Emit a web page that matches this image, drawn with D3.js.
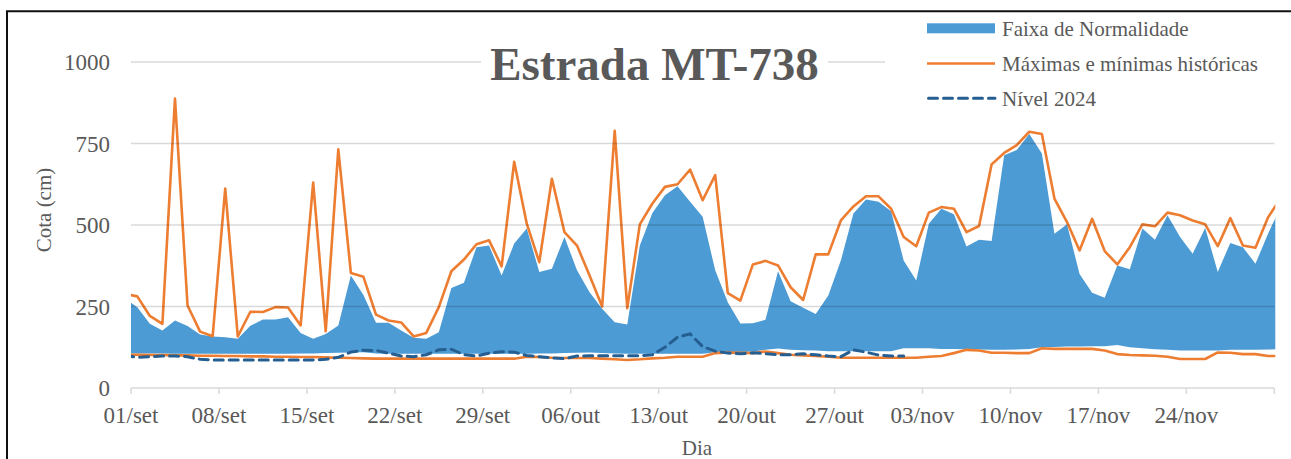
<!DOCTYPE html>
<html><head><meta charset="utf-8">
<script src="https://cdn.jsdelivr.net/npm/d3@7"></script>
<style>body{margin:0;background:#fff}svg{display:block}text{font-family:"Liberation Serif","Times New Roman",serif;fill:#595959}</style>
</head><body>
<svg id="c" width="1291" height="459"></svg>
<script>
// Days counted from 01/set; first value is 31/ago (day -1), last is 01/dez (day 91)
const firstDay = -1;
const maxima = [289,281,221,197,888,253,173,159,612,158,234,233,248,247,192,630,174,732,353,341,
  225,207,201,158,169,248,358,394,441,453,373,694,504,386,642,478,437,345,250,789,
  245,502,566,617,625,670,576,653,291,268,379,390,376,309,270,410,410,514,557,588,
  588,550,463,435,538,555,550,478,497,686,721,745,786,779,581,509,422,519,420,379,
  432,502,496,538,530,514,502,435,521,437,430,523,582];
const bandTop = [275,248,197,176,207,190,164,158,156,151,191,210,210,217,169,151,166,192,345,285,
  200,200,176,154,151,171,307,323,432,437,345,443,489,356,366,463,361,294,243,202,
  195,437,537,591,619,571,525,361,263,198,199,209,358,266,246,227,284,391,535,578,
  571,542,391,330,504,550,533,434,455,451,714,730,779,719,473,502,350,292,277,376,
  364,489,455,530,463,412,491,356,445,432,381,473,555];
const bandBottom = [106,106,106,106,105,105,105,105,105,105,105,105,105,105,106,106,107,108,109,110,
  106,105,105,105,105,105,105,105,105,105,105,105,105,106,106,107,108,109,107,106,
  105,105,105,105,105,105,105,110,110,110,112,117,121,117,116,115,113,113,113,113,
  113,113,122,122,122,120,120,119,118,117,117,118,120,125,126,127,127,128,128,132,
  125,122,119,117,115,115,115,115,117,117,117,118,119];
const minima = [102,102,101,101,100,100,99,99,98,98,97,97,96,96,95,95,94,93,92,91,
  90,90,90,90,90,90,90,90,90,90,90,90,96,95,93,92,92,92,90,88,
  86,88,91,93,96,96,96,107,109,108,107,112,107,102,100,98,96,93,93,93,
  93,93,93,93,96,98,107,117,115,108,108,107,107,122,120,120,120,120,115,104,
  101,100,99,96,89,89,89,109,108,104,104,98,98];
const level2024 = [100,94,96,98,98,96,88,86,86,86,86,86,86,86,86,86,88,94,110,116,
  115,107,98,96,102,117,119,102,98,107,111,110,100,96,92,90,98,99,99,99,
  99,99,102,125,156,166,127,113,107,105,108,105,102,102,105,102,98,96,117,110,
  101,98,98];
const xTickLabels = ["01/set","08/set","15/set","22/set","29/set","06/out","13/out","20/out","27/out","03/nov","10/nov","17/nov","24/nov"];
const yTicks = [0,250,500,750,1000];
const title = "Estrada MT-738";
const legendLabels = ["Faixa de Normalidade","Máximas e mínimas históricas","Nível 2024"];

const svg = d3.select("#c");
const L = 131, R = 1274.3, T = 62, B = 388;
const x = d3.scaleLinear().domain([0, 91]).range([L, R]);
const y = d3.scaleLinear().domain([0, 1000]).range([B, T]);
const px = i => x(firstDay + i + 0.5);

svg.append("rect").attr("width",1291).attr("height",459).attr("fill","#fff");
svg.append("defs").append("clipPath").attr("id","clip")
  .append("rect").attr("x",L).attr("y",0).attr("width",R-L+1).attr("height",B);

// axis baseline and ticks
svg.append("line").attr("x1",L).attr("x2",R).attr("y1",B).attr("y2",B).attr("stroke","#d9d9d9").attr("stroke-width",1.5);
const tickDays = d3.range(0, 92, 7);
svg.selectAll(".tk").data(tickDays).join("line")
  .attr("x1",d=>x(d)).attr("x2",d=>x(d)).attr("y1",B).attr("y2",B+6)
  .attr("stroke","#d9d9d9").attr("stroke-width",1.5);
svg.selectAll(".xl").data(xTickLabels).join("text")
  .attr("x",(d,i)=>x(i*7)).attr("y",423).attr("text-anchor","middle")
  .attr("font-size",23).text(d=>d);
svg.selectAll(".yl").data(yTicks).join("text")
  .attr("x",110).attr("y",d=>y(d)+8).attr("text-anchor","end")
  .attr("font-size",23).text(d=>d);

const g = svg.append("g").attr("clip-path","url(#clip)");
const idx = d3.range(maxima.length);
g.append("path").datum(idx)
  .attr("d", d3.area().x(i=>px(i)).y0(i=>y(bandBottom[i])).y1(i=>y(bandTop[i])))
  .attr("fill","#4c9bd4");
// gridlines
svg.selectAll(".gl").data(yTicks.slice(1)).join("line")
  .attr("x1",L).attr("x2",R).attr("y1",d=>y(d)).attr("y2",d=>y(d))
  .attr("stroke","rgba(0,0,0,0.15)").attr("stroke-width",1.5);

const line = arr => d3.line().x(i=>px(i)).y(i=>y(arr[i]));
g.append("path").datum(idx).attr("d", line(maxima)).attr("fill","none").attr("stroke","#ed7d31").attr("stroke-width",2.6).attr("stroke-linejoin","round");
g.append("path").datum(idx).attr("d", line(minima)).attr("fill","none").attr("stroke","#ed7d31").attr("stroke-width",2.6).attr("stroke-linejoin","round");
g.append("path").datum(d3.range(level2024.length)).attr("d", line(level2024)).attr("fill","none")
  .attr("stroke","#255e91").attr("stroke-width",3).attr("stroke-dasharray","9,6").attr("stroke-linecap","round");

// title with white box
const tt = svg.append("text").attr("x",654.5).attr("y",80).attr("text-anchor","middle")
  .attr("font-size",47).attr("font-weight","bold").text(title);
const bb = tt.node().getBBox();
svg.insert("rect","text:last-of-type").attr("x",bb.x-9).attr("y",bb.y).attr("width",bb.width+18).attr("height",bb.height).attr("fill","#fff");
tt.raise();

// legend
svg.append("rect").attr("x",885).attr("y",13).attr("width",406).attr("height",112).attr("fill","#fff");
svg.append("rect").attr("x",927).attr("y",23.3).attr("width",68).attr("height",10).attr("fill","#4c9bd4");
svg.append("line").attr("x1",927).attr("x2",995).attr("y1",63.5).attr("y2",63.5).attr("stroke","#ed7d31").attr("stroke-width",2.6);
svg.append("line").attr("x1",928.5).attr("x2",995).attr("y1",98.3).attr("y2",98.3).attr("stroke","#255e91").attr("stroke-width",3).attr("stroke-dasharray","9,6").attr("stroke-linecap","round");
svg.selectAll(".lg").data(legendLabels).join("text")
  .attr("x",1002).attr("y",(d,i)=>36+i*35).attr("font-size",21).text(d=>d);

// axis titles
svg.append("text").attr("x",697).attr("y",455).attr("text-anchor","middle").attr("font-size",21).text("Dia");
svg.append("text").attr("transform","translate(51,210) rotate(-90)").attr("text-anchor","middle").attr("font-size",21).text("Cota (cm)");

// border
svg.append("path").attr("d","M7,470V11.3H1300").attr("fill","none").attr("stroke","#111").attr("stroke-width",2);
</script>
</body></html>
